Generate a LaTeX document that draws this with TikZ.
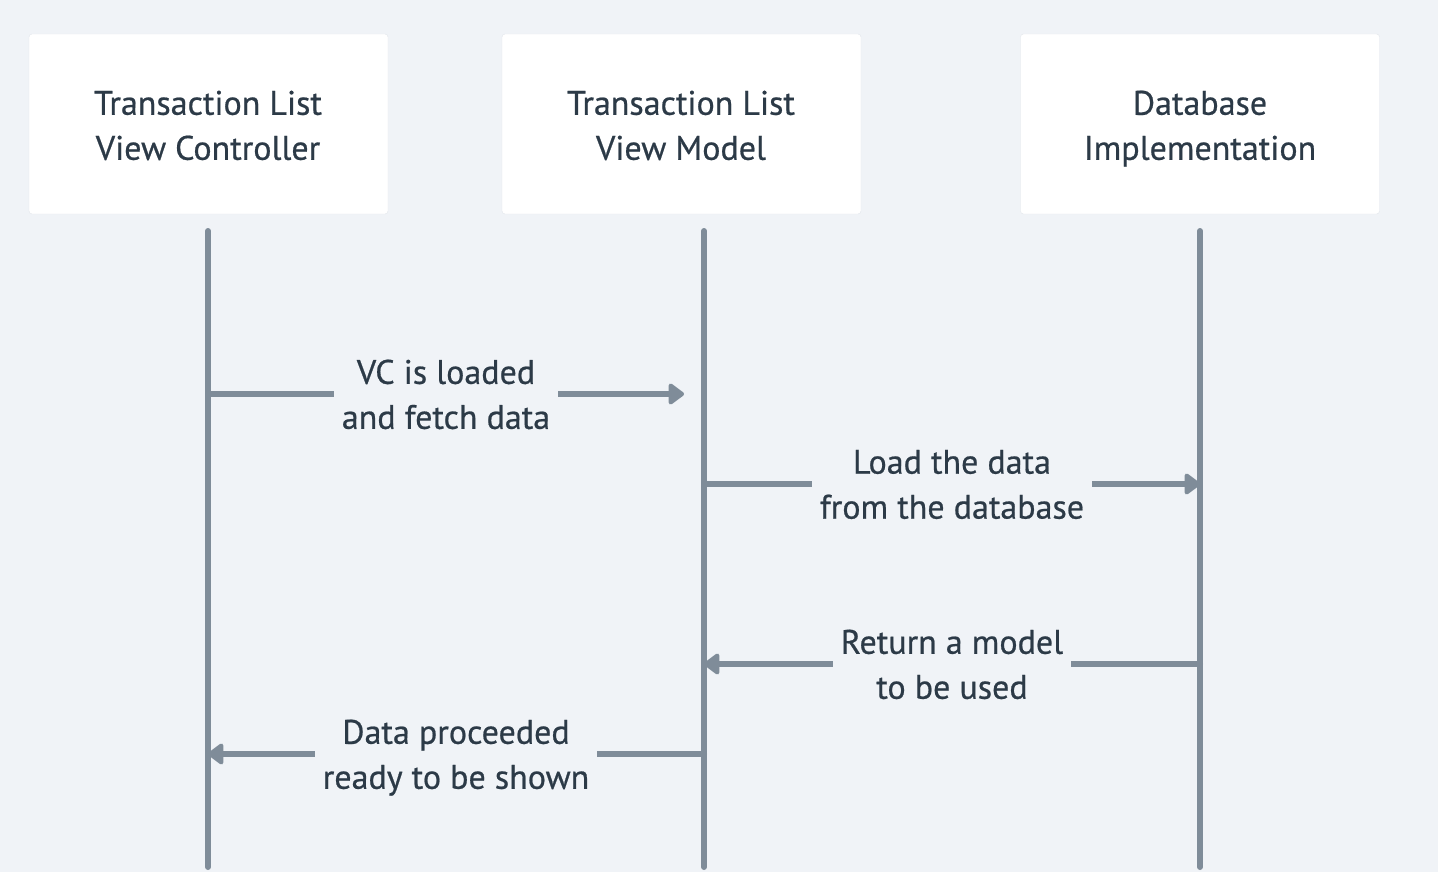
\documentclass[tikz,border=0pt]{standalone}
\usepackage{fontspec}
\setmainfont{PT Sans}[FakeBold=0.6]
\usetikzlibrary{arrows.meta}

\definecolor{bgcol}{RGB}{240,243,247}
\definecolor{linecol}{RGB}{127,140,153}
\definecolor{textcol}{RGB}{44,58,71}
\definecolor{edgecol}{RGB}{226,230,235}

\tikzset{
    box/.style={draw=edgecol, fill=white, rounded corners=3pt, minimum width=359pt, minimum height=180pt},
    boxtext/.style={align=center, text=textcol, font=\fontsize{34}{45}\selectfont, execute at begin node=\strut, execute at end node=\strut},
    life/.style={linecol, line width=6pt, line cap=round},
    msg/.style={linecol, line width=6pt, line cap=round, -{Triangle[length=17pt,width=24pt,round]}},
    lbl/.style={fill=bgcol, inner xsep=8pt, inner ysep=0pt, yshift=-7pt, align=center, text=textcol, font=\fontsize{34}{45}\selectfont, execute at begin node=\strut, execute at end node=\strut}
}

\begin{document}
\begin{tikzpicture}[x=1pt, y=-1pt]
            \fill[bgcol] (0,0) rectangle (1438,872);
            \useasboundingbox (0,0) rectangle (1438,872);

            % Participants
            \node[box] (vc) at (208.5,124) {};
            \node[box] (vm) at (681.5,124) {};
            \node[box] (db) at (1200,124) {};
            \node[boxtext] (vctext) at (208,132) {Transaction List\\View Controller};
            \node[boxtext] (vmtext) at (681,132) {Transaction List\\View Model};
            \node[boxtext] (dbtext) at (1200,132) {Database\\Implementation};

            % Lifelines
            \coordinate (vctop) at (208,231);
            \coordinate (vmtop) at (704,231);
            \coordinate (dbtop) at (1200,231);
            \coordinate (vcend) at (208,867);
            \coordinate (vmend) at (704,867);
            \coordinate (dbend) at (1200,867);
            \draw[life] (vctop) -- (vcend);
            \draw[life] (vmtop) -- (vmend);
            \draw[life] (dbtop) -- (dbend);

            % Messages
            \coordinate (m1s) at (208,394);
            \coordinate (m1e) at (684,394);
            \coordinate (m2s) at (704,484);
            \coordinate (m2e) at (1200,484);
            \coordinate (m3s) at (1200,664);
            \coordinate (m3e) at (704,664);
            \coordinate (m4s) at (704,754);
            \coordinate (m4e) at (208,754);

            \draw[msg] (m1s) -- node[lbl] {VC is loaded\\and fetch data} (m1e);
            \draw[msg] (m2s) -- node[lbl] {Load the data\\from the database} (m2e);
            \draw[msg] (m3s) -- node[lbl] {Return a model\\to be used} (m3e);
            \draw[msg] (m4s) -- node[lbl] {Data proceeded\\ready to be shown} (m4e);

\end{tikzpicture}
\end{document}
